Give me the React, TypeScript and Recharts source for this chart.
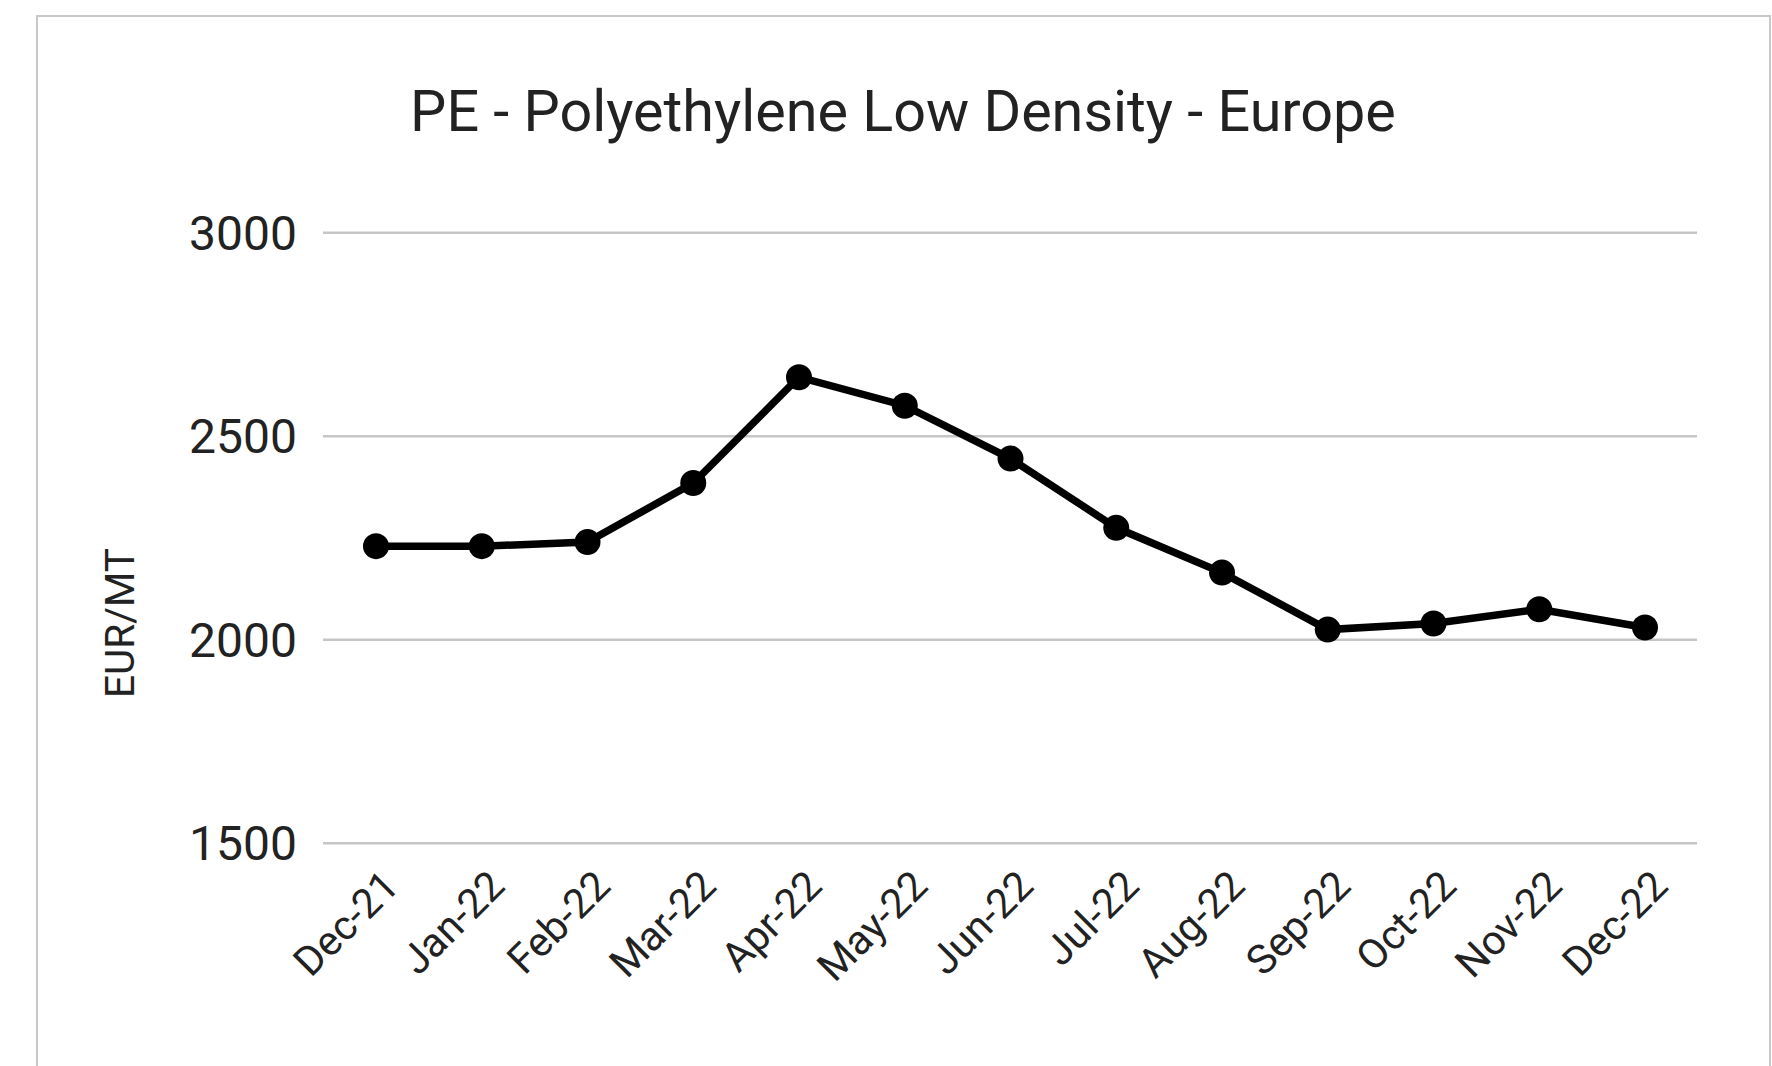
import React from 'react';
import { LineChart, Line, XAxis, YAxis, CartesianGrid } from 'recharts';

const months = ['Dec-21', 'Jan-22', 'Feb-22', 'Mar-22', 'Apr-22', 'May-22', 'Jun-22', 'Jul-22', 'Aug-22', 'Sep-22', 'Oct-22', 'Nov-22', 'Dec-22'];
const prices = [2230, 2230, 2240, 2385, 2645, 2575, 2445, 2275, 2165, 2025, 2040, 2075, 2030];
const yTicks = [1500, 2000, 2500, 3000];
const title = 'PE - Polyethylene Low Density - Europe';
const yLabel = 'EUR/MT';

const data = months.map((m, i) => ({ month: m, price: prices[i] }));

const FONT = 'Roboto, "Noto Sans", sans-serif';

const XTick = (props: any) => {
  const { x, y, payload } = props;
  return (
    <g transform={`translate(${x + 25},${y + 45})`}>
      <text
        x={0}
        y={0}
        transform="rotate(-45)"
        textAnchor="end"
        fontFamily={FONT}
        fontSize={41}
        fill="#222"
      >
        {payload.value}
      </text>
    </g>
  );
};

export default function App() {
  return (
    <div style={{ position: 'absolute', left: 0, top: 0, width: 1772, height: 1066, background: '#fff', overflow: 'hidden' }}>
      <svg width={1772} height={1066} style={{ position: 'absolute', left: 0, top: 0 }}>
        <rect x={37} y={16} width={1733} height={1100} fill="#fff" stroke="#c8c8c8" strokeWidth={2} />
        <text x={903} y={131} textAnchor="middle" fontFamily={FONT} fontSize={57.5} fill="#222">
          {title}
        </text>
        <text x={134} y={623} textAnchor="middle" transform="rotate(-90 134 623)" fontFamily={FONT} fontSize={40.5} fill="#222">
          {yLabel}
        </text>
      </svg>
      <div style={{ position: 'absolute', left: 0, top: 0 }}>
        <LineChart
          width={1772}
          height={1066}
          data={data}
          margin={{ top: 232.7, right: 75, bottom: 72.7, left: 123 }}
        >
          <CartesianGrid vertical={false} stroke="#c6c6c6" strokeWidth={2.5} />
          <XAxis
            dataKey="month"
            interval={0}
            axisLine={false}
            tickLine={false}
            tickSize={0}
            tickMargin={0}
            height={150}
            padding={{ left: 53, right: 52 }}
            tick={<XTick />}
          />
          <YAxis
            domain={[1500, 3000]}
            ticks={yTicks}
            width={200}
            axisLine={false}
            tickLine={false}
            tickSize={0}
            tickMargin={26}
            tick={{ fontFamily: FONT, fontSize: 48, fill: '#222' }}
          />
          <Line
            type="linear"
            dataKey="price"
            stroke="#000"
            strokeWidth={7.5}
            dot={{ r: 13, fill: '#000', stroke: '#000', strokeWidth: 0 }}
            activeDot={false}
            isAnimationActive={false}
          />
        </LineChart>
      </div>
    </div>
  );
}
